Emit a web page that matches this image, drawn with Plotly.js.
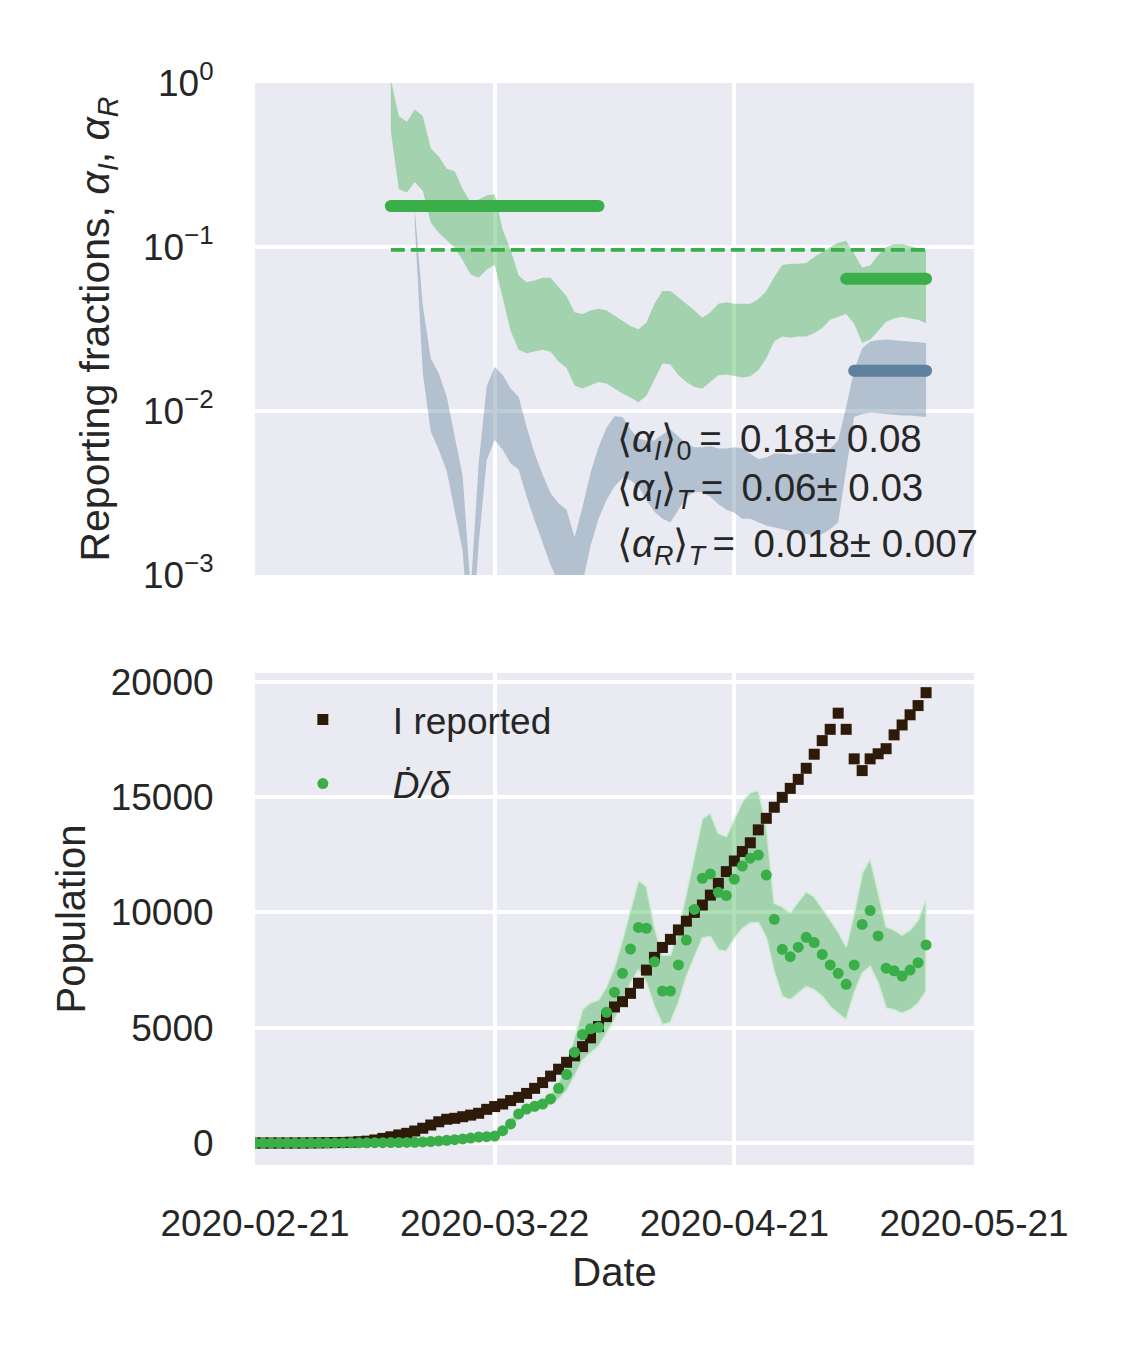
<!DOCTYPE html>
<html>
<head>
<meta charset="utf-8">
<script src="https://cdn.plot.ly/plotly-3.0.1.min.js"></script>
<style>html,body{margin:0;padding:0;background:#fff;}#chart{width:1125px;height:1350px;}</style>
</head>
<body>
<div id="chart"></div>
<script>
// ---------- data ----------
const startDate = '2020-02-21';
const nDays = 85;

const iReported = [0,0,0,0,0,2,3,5,8,12,18,25,35,55,80,130,200,270,350,420,
  520,640,780,920,1030,1070,1140,1210,1290,1460,1580,1690,1840,1980,2150,2370,2620,2900,3200,3500,
  3780,4180,4560,5050,5480,5900,6130,6490,6930,7500,8050,8480,8830,9240,9620,10000,10320,10750,11260,11770,
  12230,12640,13020,13580,14080,14560,14990,15380,15770,16250,16860,17450,17940,18640,17940,16660,16150,16660,16880,17100,
  17700,18130,18570,18970,19530];

const dDotOverDelta = [0,0,0,0,0,0,0,0,0,0,2,4,6,8,10,12,15,18,22,26,
  30,45,65,90,115,145,175,215,260,275,300,535,825,1260,1475,1590,1690,1910,2370,2970,
  3940,4700,4950,5020,5670,6540,7360,8410,9350,9310,7860,6590,6590,7720,8800,10130,11480,11670,10870,10730,
  11440,12010,12350,12490,11620,9700,8400,8080,8490,8920,8690,8180,7720,7360,6880,7720,9480,10080,8980,7580,
  7470,7240,7500,7820,8590];

// uncertainty band of D/delta (days 30..84)
const popBandStart = 30;
const popBandUpper = [330,650,1050,1475,1650,1760,1900,2100,2650,3400,
  4550,5800,6090,6210,6780,7650,8820,10100,11410,11120,9380,8150,8150,9240,10830,12560,14080,14300,13430,13290,
  14010,14800,15200,15300,13800,10400,10250,9990,10470,10900,10680,10170,9670,9170,8510,9960,11700,12350,10900,9380,
  9240,9020,9240,9670,10610];
const popBandLower = [270,450,680,1040,1300,1450,1520,1650,1900,2250,
  2900,3570,3900,4180,4760,5330,6060,6930,7500,6930,5910,5120,5230,6060,7210,8080,8880,8950,8370,8300,
  8880,9280,9530,9560,8900,7400,6350,6200,6490,6780,6640,6350,5910,5620,5330,6490,7360,7650,6930,5840,
  5770,5620,5770,6060,6570];

// alpha_I band (days 17..84)
const alphaIStart = 17;
const alphaIUpper = [1.05,0.63,0.58,0.69,0.63,0.40,0.356,0.30,0.29,0.226,0.187,0.195,0.206,0.21,0.128,0.096,0.067,0.061,0.0625,0.065,
  0.065,0.057,0.050,0.040,0.039,0.041,0.042,0.041,0.038,0.0355,0.033,0.0315,0.0347,0.045,0.054,0.054,0.049,0.045,0.041,0.037,
  0.040,0.045,0.046,0.045,0.045,0.045,0.048,0.054,0.0656,0.0776,0.079,0.079,0.080,0.087,0.093,0.100,0.106,0.109,0.091,0.075,
  0.077,0.089,0.100,0.104,0.104,0.101,0.099,0.096];
const alphaILower = [0.51,0.226,0.215,0.249,0.22,0.141,0.122,0.110,0.099,0.083,0.068,0.065,0.073,0.0776,0.049,0.0307,0.0236,0.0225,0.023,0.0236,
  0.023,0.020,0.0183,0.0143,0.0137,0.0143,0.015,0.0147,0.0137,0.0128,0.0121,0.0113,0.0124,0.0156,0.0195,0.0192,0.0165,0.015,0.014,0.0137,
  0.015,0.0165,0.0167,0.0163,0.016,0.0163,0.0177,0.021,0.0266,0.0285,0.028,0.0285,0.0285,0.0298,0.0321,0.036,0.0376,0.039,0.034,0.026,
  0.0273,0.0307,0.035,0.0367,0.0376,0.0367,0.036,0.0343];

// alpha_R band (days 20..84)
const alphaRStart = 20;
const alphaRUpper = [0.17,0.044,0.021,0.017,0.0122,0.0070,0.0040,0.0008,0.0048,0.0141,
  0.0186,0.0166,0.0137,0.0122,0.0080,0.0055,0.0041,0.00315,0.00274,0.0025,
  0.0017,0.0026,0.0042,0.0060,0.0079,0.0093,0.0092,0.0077,0.0068,0.0066,
  0.0066,0.0072,0.0077,0.0070,0.0063,0.0060,0.0060,0.0061,0.0059,0.0059,
  0.0060,0.0059,0.0055,0.0051,0.0052,0.0055,0.0055,0.0054,0.0055,0.0056,
  0.0055,0.0056,0.0059,0.0066,0.0106,0.0178,0.0241,0.0265,0.027,0.0273,
  0.027,0.0268,0.0265,0.0263,0.026];
const alphaRLower = [0.14,0.017,0.0075,0.0058,0.0043,0.0024,0.0014,0.0003,0.00156,0.0050,
  0.00665,0.0058,0.0048,0.0044,0.0030,0.00216,0.00156,0.00115,0.0009,0.0008,
  0.0006,0.0009,0.0015,0.0022,0.00287,0.00346,0.0039,0.0038,0.00346,0.00287,
  0.00243,0.0022,0.0021,0.0025,0.0030,0.0032,0.0032,0.0030,0.0027,0.0025,
  0.0024,0.0022,0.0022,0.0021,0.0020,0.00195,0.0019,0.00185,0.0018,0.00178,
  0.00175,0.00178,0.0019,0.0021,0.0044,0.0092,0.0096,0.0098,0.0097,0.0096,
  0.0095,0.0094,0.0094,0.0093,0.0092];

// mean reporting fractions
const alphaI0 = 0.178, alphaI0Period = ['2020-03-09','2020-04-04'];
const alphaIT = 0.064, alphaITPeriod = ['2020-05-05','2020-05-15'];
const alphaRT = 0.0176, alphaRTPeriod = ['2020-05-06','2020-05-15'];
const alphaRef = 0.096, alphaRefPeriod = ['2020-03-09','2020-05-15'];

const xTickVals = ['2020-02-21','2020-03-22','2020-04-21','2020-05-21'];
const xTickText = ['2020-02-21','2020-03-22','2020-04-21','2020-05-21'];
const popTickVals = [0,5000,10000,15000,20000];
const popTickText = ['0','5000','10000','15000','20000'];
const fracTickVals = [1,0.1,0.01,0.001];
const fracTickText = ['10<sup>0</sup>','10<sup>−1</sup>','10<sup>−2</sup>','10<sup>−3</sup>'];

const statLines = [
  '⟨<i>α</i><sub><i>I</i></sub>⟩<sub>0</sub>&#8201;=&#8201; 0.18± 0.08',
  '⟨<i>α</i><sub><i>I</i></sub>⟩<sub><i>T</i></sub>&#8201;= &#8201;0.06± 0.03',
  '⟨<i>α</i><sub><i>R</i></sub>⟩<sub><i>T</i></sub>&#8201;= &#8201;0.018± 0.007'
];

// ---------- build ----------
const dates = [];
{
  const s = new Date(startDate + 'T00:00:00Z');
  for (let i = 0; i < nDays; i++) {
    const d = new Date(s.getTime() + i * 86400000);
    dates.push(d.toISOString().slice(0, 10));
  }
}
function band(start, up, lo) {
  const xs = dates.slice(start, start + up.length);
  return { x: xs.concat(xs.slice().reverse()), y: up.concat(lo.slice().reverse()) };
}

const GREEN = '#3aae48';
const BLUE = '#5e819d';
const FONT = 'Liberation Sans, Arial, sans-serif';
const TXT = '#262626';

const bI = band(alphaIStart, alphaIUpper, alphaILower);
const bR = band(alphaRStart, alphaRUpper, alphaRLower);
const bP = band(popBandStart, popBandUpper, popBandLower);

const traces = [
  { x: bI.x, y: bI.y, xaxis: 'x2', yaxis: 'y2', type: 'scatter', mode: 'lines', fill: 'toself',
    fillcolor: 'rgba(58,174,72,0.4)', line: { width: 0 }, showlegend: false, hoverinfo: 'skip' },
  { x: bR.x, y: bR.y, xaxis: 'x2', yaxis: 'y2', type: 'scatter', mode: 'lines', fill: 'toself',
    fillcolor: 'rgba(94,129,157,0.4)', line: { width: 0 }, showlegend: false, hoverinfo: 'skip' },
  { x: alphaRefPeriod, y: [alphaRef, alphaRef], xaxis: 'x2', yaxis: 'y2', type: 'scatter', mode: 'lines',
    line: { color: GREEN, width: 3.7, dash: '14px,6px' }, showlegend: false },
  { x: alphaI0Period, y: [alphaI0, alphaI0], xaxis: 'x2', yaxis: 'y2', type: 'scatter', mode: 'lines+markers',
    line: { color: GREEN, width: 12 }, marker: { color: GREEN, size: 12 }, showlegend: false },
  { x: alphaITPeriod, y: [alphaIT, alphaIT], xaxis: 'x2', yaxis: 'y2', type: 'scatter', mode: 'lines+markers',
    line: { color: GREEN, width: 12 }, marker: { color: GREEN, size: 12 }, showlegend: false },
  { x: alphaRTPeriod, y: [alphaRT, alphaRT], xaxis: 'x2', yaxis: 'y2', type: 'scatter', mode: 'lines+markers',
    line: { color: BLUE, width: 12 }, marker: { color: BLUE, size: 12 }, showlegend: false },

  { x: bP.x, y: bP.y, xaxis: 'x', yaxis: 'y', type: 'scatter', mode: 'lines', fill: 'toself',
    fillcolor: 'rgba(58,174,72,0.4)', line: { width: 2, color: 'rgba(215,240,218,0.75)' },
    showlegend: false, hoverinfo: 'skip' },
  { x: dates, y: iReported, xaxis: 'x', yaxis: 'y', type: 'scatter', mode: 'markers', name: 'I reported',
    legendgroup: 'a', marker: { symbol: 'square', size: 11, color: '#2d1a08' } },
  { x: dates, y: dDotOverDelta, xaxis: 'x', yaxis: 'y', type: 'scatter', mode: 'markers', name: '<i>Ḋ/δ</i>',
    legendgroup: 'b', marker: { symbol: 'circle', size: 11, color: GREEN } }
];

const gridCommon = { gridcolor: '#ffffff', gridwidth: 4, zeroline: false, showline: false,
  ticks: 'outside', tickcolor: 'rgba(0,0,0,0)', tickfont: { family: FONT, size: 37, color: TXT } };

const annotations = statLines.map((t, i) => ({
  text: t, xref: 'x2 domain', yref: 'y2 domain', x: 0.5, y: [0.272, 0.171, 0.058][i],
  xanchor: 'left', yanchor: 'middle', showarrow: false, font: { family: FONT, size: 38.5, color: TXT }
}));

const layout = {
  width: 1125, height: 1350,
  margin: { l: 255, r: 151, t: 83, b: 185 },
  paper_bgcolor: '#ffffff', plot_bgcolor: '#eaeaf2',
  font: { family: FONT, color: TXT, size: 37 },
  showlegend: true,
  legend: { x: -0.003, y: 0.44, xanchor: 'left', yanchor: 'top', bgcolor: 'rgba(0,0,0,0)',
    font: { family: FONT, size: 37, color: TXT }, itemwidth: 130, traceorder: 'grouped', tracegroupgap: 13 },
  xaxis: Object.assign({}, gridCommon, { domain: [0, 1], anchor: 'y', type: 'date',
    range: ['2020-02-21', '2020-05-21'], tickmode: 'array', tickvals: xTickVals, ticktext: xTickText, ticklen: 26,
    title: { text: 'Date', font: { family: FONT, size: 40, color: TXT }, standoff: 14 } }),
  xaxis2: Object.assign({}, gridCommon, { domain: [0, 1], anchor: 'y2', type: 'date', matches: 'x',
    range: ['2020-02-21', '2020-05-21'], tickmode: 'array', tickvals: xTickVals, showticklabels: false, ticks: '' }),
  yaxis: Object.assign({}, gridCommon, { domain: [0, 0.4547], anchor: 'x', range: [-954, 20382],
    tickmode: 'array', tickvals: popTickVals, ticktext: popTickText, ticklen: 33,
    title: { text: 'Population', font: { family: FONT, size: 40, color: TXT }, standoff: 12 } }),
  yaxis2: Object.assign({}, gridCommon, { domain: [0.5453, 1], anchor: 'x2', type: 'log', range: [-3, 0],
    tickmode: 'array', tickvals: fracTickVals, ticktext: fracTickText, ticklen: 33,
    title: { text: 'Reporting fractions, <i>α<sub>I</sub></i>, <i>α<sub>R</sub></i>', font: { family: FONT, size: 41, color: TXT }, standoff: 20 } }),
  annotations: annotations
};

Plotly.newPlot('chart', traces, layout, { staticPlot: true, displayModeBar: false });
</script>
</body>
</html>
